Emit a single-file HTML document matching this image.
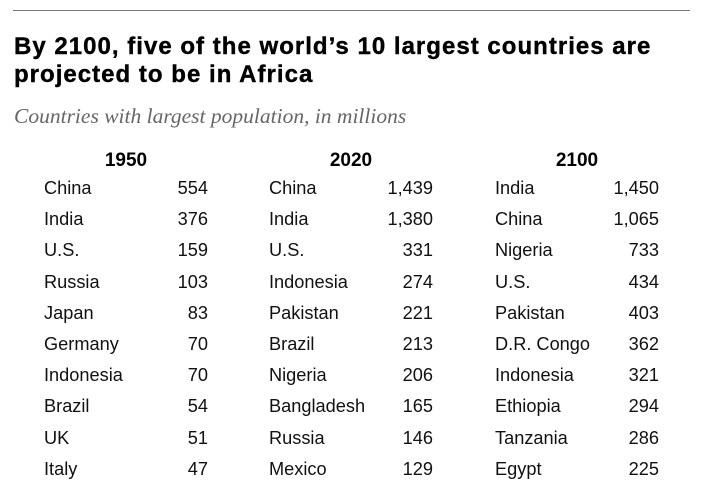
<!DOCTYPE html>
<html><head><style>
body{margin:0;width:703px;height:494px;background:#fff;position:relative;font-family:"Liberation Sans",sans-serif;color:#000;overflow:hidden}
.rule{position:absolute;left:13px;top:10px;width:677px;height:1px;background:#777}
.t{position:absolute;left:14px;font-weight:bold;font-size:24px;line-height:28px;letter-spacing:1.02px;-webkit-text-stroke:0.4px #000}
.sub{position:absolute;left:14px;top:104px;font-family:"Liberation Serif",serif;font-style:italic;font-size:21.5px;color:#666}
.h{position:absolute;font-weight:bold;font-size:19px;line-height:20px;width:100px;text-align:center}
.n{position:absolute;font-size:18.2px;line-height:20px;color:#111}
.v{position:absolute;font-size:18.2px;line-height:20px;text-align:right;width:80px;color:#111}
</style></head><body>
<div class="rule"></div>
<div class="t" style="top:33px">By 2100, five of the world’s 10 largest countries are</div>
<div class="t" style="top:61px">projected to be in Africa</div>
<div class="sub">Countries with largest population, in millions</div>
<div class="h" style="left:76px;top:151px">1950</div>
<div class="h" style="left:301px;top:151px">2020</div>
<div class="h" style="left:527px;top:151px">2100</div>
<div id="rows"></div>
<script>
var d=[
[["China","554"],["India","376"],["U.S.","159"],["Russia","103"],["Japan","83"],["Germany","70"],["Indonesia","70"],["Brazil","54"],["UK","51"],["Italy","47"]],
[["China","1,439"],["India","1,380"],["U.S.","331"],["Indonesia","274"],["Pakistan","221"],["Brazil","213"],["Nigeria","206"],["Bangladesh","165"],["Russia","146"],["Mexico","129"]],
[["India","1,450"],["China","1,065"],["Nigeria","733"],["U.S.","434"],["Pakistan","403"],["D.R. Congo","362"],["Indonesia","321"],["Ethiopia","294"],["Tanzania","286"],["Egypt","225"]]];
var nx=[44,269,495],vx=[208,433,659],h="";
for(var c=0;c<3;c++)for(var r=0;r<10;r++){var y=178+r*31.2;
h+='<div class="n" style="left:'+nx[c]+'px;top:'+y+'px">'+d[c][r][0]+'</div>';
h+='<div class="v" style="left:'+(vx[c]-80)+'px;top:'+y+'px">'+d[c][r][1]+'</div>';}
document.getElementById("rows").innerHTML=h;
</script>
</body></html>
